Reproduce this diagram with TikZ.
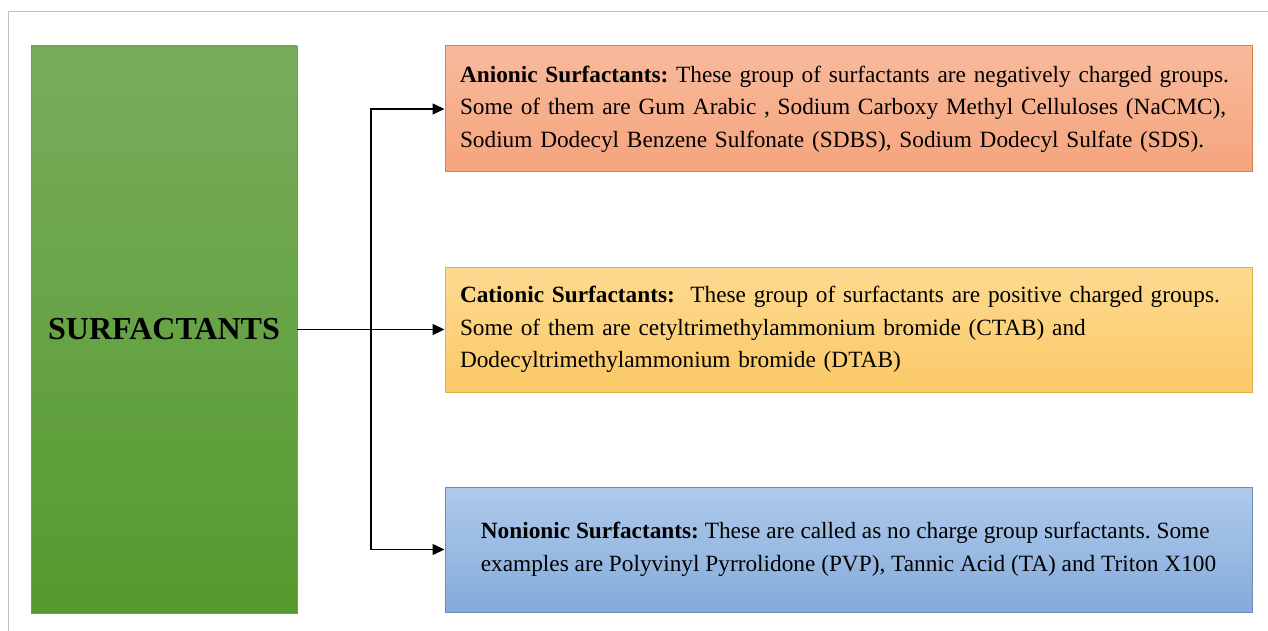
\documentclass[tikz,border=0pt]{standalone}
\usepackage{fontspec}
\setmainfont{Liberation Serif}
\usetikzlibrary{arrows.meta}
\frenchspacing
\definecolor{frameg}{HTML}{BFBFBF}
\definecolor{gtop}{HTML}{79AD5D}
\definecolor{gbot}{HTML}{559A2E}
\definecolor{gline}{HTML}{6E9E50}
\definecolor{otop}{HTML}{F8BA9C}
\definecolor{obot}{HTML}{F5A47D}
\definecolor{oline}{HTML}{D7814F}
\definecolor{ytop}{HTML}{FDDA90}
\definecolor{ybot}{HTML}{FBC967}
\definecolor{yline}{HTML}{DDB04A}
\definecolor{btop}{HTML}{AFCAEB}
\definecolor{bbot}{HTML}{84ABDB}
\definecolor{bline}{HTML}{6C8DB6}
\tikzset{
  x=1pt, y=-1pt,
  bodyfont/.style={font=\frenchspacing\fontsize{23.3}{32.5}\selectfont},
  catbox/.style={rectangle, draw, line width=1pt, minimum height=126pt,
    align=left, bodyfont, inner ysep=0pt},
  arr/.style={line width=1.4pt, -{Triangle[length=12pt,width=11pt]}},
}
\begin{document}
\begin{tikzpicture}
\useasboundingbox (0,0) rectangle (1268,631);
\fill[white] (0,0) rectangle (1268,631);
\draw[frameg, line width=1pt] (8,631) -- (8,12) -- (1268,12);

\node[rectangle, draw=gline, line width=0.8pt, top color=gtop, bottom color=gbot,
  minimum width=266pt, minimum height=567pt, inner sep=0pt,
  font=\fontsize{32}{36}\selectfont\bfseries] (s) at (164,329.5) {SURFACTANTS};

\node[catbox, draw=oline, top color=otop, bottom color=obot,
  text width=777pt, inner xsep=15pt] (an) at (848.5,109)
  {\textbf{Anionic Surfactants:} These group of surfactants are negatively charged groups.\\
   Some of them are Gum Arabic , Sodium Carboxy Methyl Celluloses (NaCMC),\\
   Sodium Dodecyl Benzene Sulfonate (SDBS), Sodium Dodecyl Sulfate (SDS).};

\node[catbox, draw=yline, top color=ytop, bottom color=ybot, minimum height=125pt,
  text width=777pt, inner xsep=15pt] (cat) at (848.5,329.5)
  {\textbf{Cationic Surfactants:}\ \ These group of surfactants are positive charged groups.\\
   Some of them are cetyltrimethylammonium bromide (CTAB) and\\
   Dodecyltrimethylammonium bromide (DTAB)};

\node[catbox, draw=bline, top color=btop, bottom color=bbot, minimum height=125pt,
  minimum width=807pt, inner xsep=0pt] (non) at (848.5,549.5)
  {\textbf{Nonionic Surfactants:} These are called as no charge group surfactants. Some\\
   examples are Polyvinyl Pyrrolidone (PVP), Tannic Acid (TA) and Triton X100};

\coordinate (j) at (371,329.5);
\draw[arr] (s.east) -- (cat.west);
\draw[arr] (s.east -| j) |- (an.west);
\draw[arr] (s.east -| j) |- (non.west);
\end{tikzpicture}
\end{document}
